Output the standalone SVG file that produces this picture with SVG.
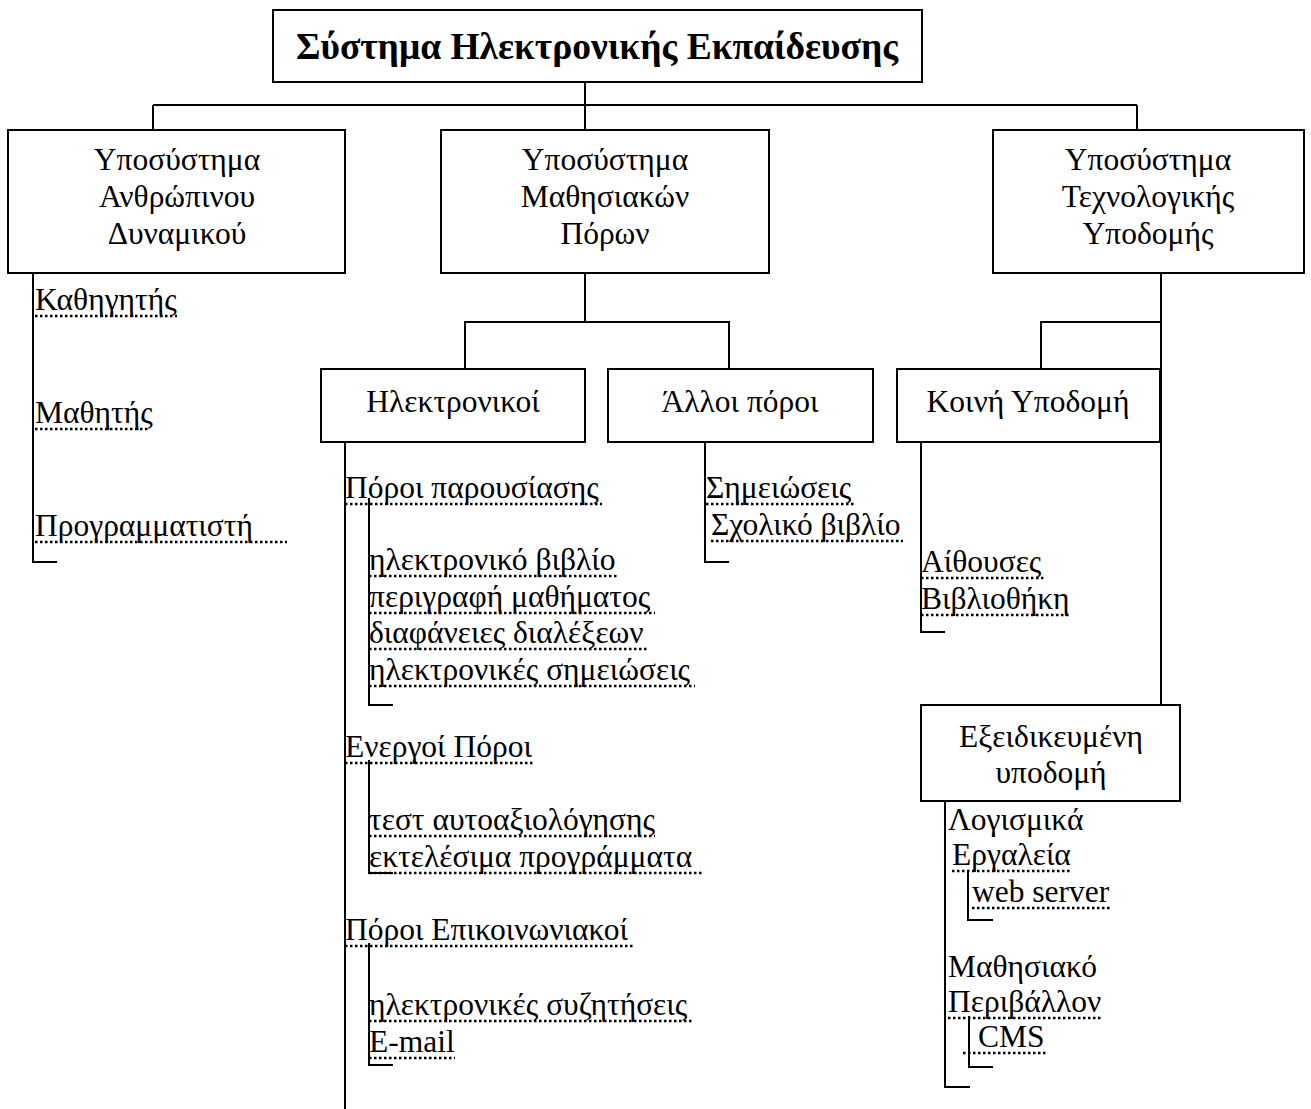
<svg xmlns="http://www.w3.org/2000/svg" width="1311" height="1109" viewBox="0 0 1311 1109">
<style>
.bg{fill:#fff}
.box{fill:#fff;stroke:#000;stroke-width:2}
.ln{stroke:#000;stroke-width:2;fill:none}
.t{font-family:"Liberation Serif","Times New Roman",serif;font-size:31.5px;fill:#000}
.c{text-anchor:middle}
.title{font-weight:bold;font-size:37.5px}
.ul{stroke:#000;stroke-width:2.5;stroke-dasharray:2.5 2.5;fill:none}
</style>
<rect class="bg" x="0" y="0" width="1311" height="1109"/>
<g id="connectors">
<line class="ln" x1="585" y1="82" x2="585" y2="130"/>
<line class="ln" x1="153" y1="105" x2="1137" y2="105"/>
<line class="ln" x1="153" y1="105" x2="153" y2="130"/>
<line class="ln" x1="1137" y1="105" x2="1137" y2="130"/>
<polyline class="ln" points="33,273 33,562 57,562"/>
<line class="ln" x1="585" y1="273" x2="585" y2="322"/>
<polyline class="ln" points="465,369 465,322 729,322 729,369"/>
<line class="ln" x1="1161" y1="273" x2="1161" y2="705"/>
<polyline class="ln" points="1041,369 1041,322 1161,322"/>
<line class="ln" x1="345" y1="442" x2="345" y2="1109"/>
<polyline class="ln" points="369,498 369,705 393,705"/>
<polyline class="ln" points="369,760 369,873 393,873"/>
<polyline class="ln" points="369,943 369,1065 393,1065"/>
<polyline class="ln" points="705,442 705,562 729,562"/>
<polyline class="ln" points="921,442 921,632 945,632"/>
<polyline class="ln" points="945,801 945,1087 970,1087"/>
<polyline class="ln" points="968,872 968,920 993,920"/>
<polyline class="ln" points="969,1016 969,1067 993,1067"/>
</g>
<g id="n-root">
<rect class="box" x="273" y="10" width="649" height="72"/>
<text class="t c title" x="597" y="59">Σύστημα Ηλεκτρονικής Εκπαίδευσης</text>
</g>
<g id="n-human">
<rect class="box" x="8" y="130" width="337" height="143"/>
<text class="t c" x="177" y="170">Υποσύστημα</text>
<text class="t c" x="177" y="207">Ανθρώπινου</text>
<text class="t c" x="177" y="244">Δυναμικού</text>
</g>
<g id="n-learning">
<rect class="box" x="441" y="130" width="328" height="143"/>
<text class="t c" x="605" y="170">Υποσύστημα</text>
<text class="t c" x="605" y="207">Μαθησιακών</text>
<text class="t c" x="605" y="244">Πόρων</text>
</g>
<g id="n-tech">
<rect class="box" x="993" y="130" width="311" height="143"/>
<text class="t c" x="1148" y="170">Υποσύστημα</text>
<text class="t c" x="1148" y="207">Τεχνολογικής</text>
<text class="t c" x="1148" y="244">Υποδομής</text>
</g>
<g id="n-electronic">
<rect class="box" x="321" y="369" width="264" height="73"/>
<text class="t c" x="453" y="412">Ηλεκτρονικοί</text>
</g>
<g id="n-other">
<rect class="box" x="608" y="369" width="265" height="73"/>
<text class="t c" x="740" y="412">Άλλοι πόροι</text>
</g>
<g id="n-common">
<rect class="box" x="897" y="369" width="263" height="73"/>
<text class="t c" x="1028" y="412">Κοινή Υποδομή</text>
</g>
<g id="n-special">
<rect class="box" x="921" y="705" width="259" height="96"/>
<text class="t c" x="1051" y="747">Εξειδικευμένη</text>
<text class="t c" x="1051" y="783">υποδομή</text>
</g>
<g id="list-human">
<text class="t" x="35" y="310">Καθηγητής</text>
<line class="ul" x1="35" y1="316" x2="177" y2="316"/>
<text class="t" x="35" y="423">Μαθητής</text>
<line class="ul" x1="35" y1="429" x2="150" y2="429"/>
<text class="t" x="35" y="536">Προγραμματιστή</text>
<line class="ul" x1="35" y1="542" x2="287" y2="542"/>
</g>
<g id="list-electronic">
<text class="t" x="345" y="498">Πόροι παρουσίασης</text>
<line class="ul" x1="345" y1="504" x2="602" y2="504"/>
<text class="t" x="369" y="570">ηλεκτρονικό βιβλίο</text>
<line class="ul" x1="369" y1="576" x2="618" y2="576"/>
<text class="t" x="369" y="607">περιγραφή μαθήματος</text>
<line class="ul" x1="369" y1="613" x2="655" y2="613"/>
<text class="t" x="369" y="643">διαφάνειες διαλέξεων</text>
<line class="ul" x1="369" y1="649" x2="648" y2="649"/>
<text class="t" x="369" y="680">ηλεκτρονικές σημειώσεις</text>
<line class="ul" x1="369" y1="686" x2="695" y2="686"/>
<text class="t" x="345" y="757">Ενεργοί Πόροι</text>
<line class="ul" x1="345" y1="763" x2="533" y2="763"/>
<text class="t" x="369" y="830">τεστ αυτοαξιολόγησης</text>
<line class="ul" x1="369" y1="836" x2="655" y2="836"/>
<text class="t" x="369" y="867">εκτελέσιμα προγράμματα</text>
<line class="ul" x1="369" y1="873" x2="702" y2="873"/>
<text class="t" x="345" y="940">Πόροι Επικοινωνιακοί</text>
<line class="ul" x1="345" y1="946" x2="633" y2="946"/>
<text class="t" x="369" y="1015">ηλεκτρονικές συζητήσεις</text>
<line class="ul" x1="369" y1="1021" x2="693" y2="1021"/>
<text class="t" x="369" y="1052">E-mail</text>
<line class="ul" x1="369" y1="1058" x2="455" y2="1058"/>
</g>
<g id="list-other">
<text class="t" x="706" y="498">Σημειώσεις</text>
<line class="ul" x1="706" y1="504" x2="855" y2="504"/>
<text class="t" x="711" y="535">Σχολικό βιβλίο</text>
<line class="ul" x1="711" y1="541" x2="903" y2="541"/>
</g>
<g id="list-common">
<text class="t" x="921" y="572">Αίθουσες</text>
<line class="ul" x1="921" y1="578" x2="1046" y2="578"/>
<text class="t" x="921" y="609">Βιβλιοθήκη</text>
<line class="ul" x1="921" y1="615" x2="1070" y2="615"/>
</g>
<g id="list-special">
<text class="t" x="948" y="830">Λογισμικά</text>
<text class="t" x="952" y="865">Εργαλεία</text>
<line class="ul" x1="952" y1="871" x2="1072" y2="871"/>
<text class="t" x="972" y="902">web server</text>
<line class="ul" x1="972" y1="908" x2="1110" y2="908"/>
<text class="t" x="948" y="977">Μαθησιακό</text>
<text class="t" x="948" y="1012">Περιβάλλον</text>
<line class="ul" x1="948" y1="1018" x2="1103" y2="1018"/>
<text class="t" x="978" y="1047">CMS</text>
<line class="ul" x1="963" y1="1053" x2="1047" y2="1053"/>
</g>
</svg>
